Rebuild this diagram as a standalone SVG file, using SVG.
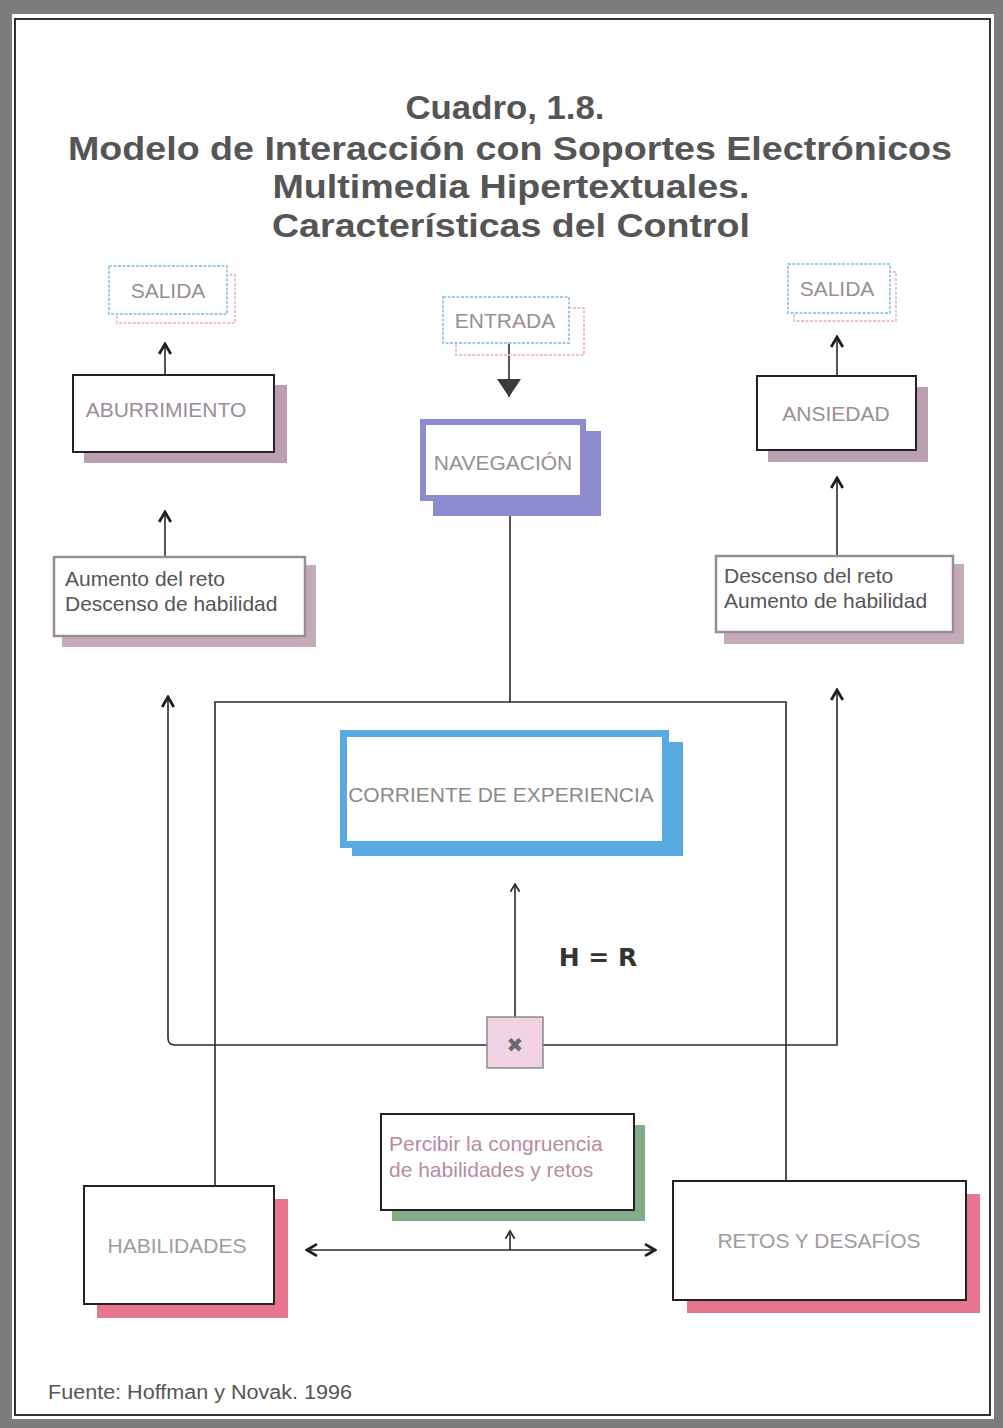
<svg xmlns="http://www.w3.org/2000/svg" width="1003" height="1428" viewBox="0 0 1003 1428">
<style>
.t{font-family:"Liberation Sans",Arial,sans-serif;}
.title{font-family:"Liberation Sans",Arial,sans-serif;font-weight:bold;font-size:34px;fill:#555;text-anchor:middle;}
.lbl{font-size:21px;fill:#9a8c9a;text-anchor:middle;}
.lbl2{font-size:21px;fill:#555;}
.box{fill:#fff;stroke:#222;stroke-width:2;}
.dot{fill:#fff;stroke:#9fcbea;stroke-width:2;stroke-dasharray:3 1.5;}
.dotsh{fill:none;stroke:#ecc0d6;stroke-width:2;stroke-dasharray:3 1.5;}
.conn{fill:none;stroke:#2a2a2a;stroke-width:1.6;}
</style>
<defs>
<marker id="chev" viewBox="0 0 12 12" refX="10.5" refY="6" markerWidth="14" markerHeight="14" markerUnits="userSpaceOnUse" orient="auto-start-reverse">
<path d="M2,1 L10.5,6 L2,11" fill="none" stroke="#1e1e1e" stroke-width="2.4"/>
</marker>
<marker id="chevs" viewBox="0 0 12 12" refX="10.5" refY="6" markerWidth="11" markerHeight="11" markerUnits="userSpaceOnUse" orient="auto-start-reverse">
<path d="M2,1 L10.5,6 L2,11" fill="none" stroke="#333" stroke-width="2"/>
</marker>
<marker id="tri" viewBox="0 0 10 10" refX="10" refY="5" markerWidth="18" markerHeight="24" markerUnits="userSpaceOnUse" orient="auto" preserveAspectRatio="none">
<path d="M0,0 L10,5 L0,10 Z" fill="#3a3a3a"/>
</marker>
</defs>

<!-- frame -->
<rect x="0" y="0" width="1003" height="1428" fill="#7c7c7c"/>
<rect x="12" y="14" width="982" height="1405" fill="#fff"/>
<rect x="15" y="19" width="975" height="1396" fill="none" stroke="#333" stroke-width="2"/>

<!-- title -->
<g id="title">
<text class="title" x="505" y="119" textLength="199" lengthAdjust="spacingAndGlyphs">Cuadro, 1.8.</text>
<text class="title" x="510" y="160" textLength="884" lengthAdjust="spacingAndGlyphs">Modelo de Interacción con Soportes Electrónicos</text>
<text class="title" x="511" y="198" textLength="477" lengthAdjust="spacingAndGlyphs">Multimedia Hipertextuales.</text>
<text class="title" x="511" y="237" textLength="478" lengthAdjust="spacingAndGlyphs">Características del Control</text>
</g>

<!-- connectors -->
<g id="connectors">
<path class="conn" d="M165,374 L165,344" marker-end="url(#chev)"/>
<path class="conn" d="M165,556 L165,512" marker-end="url(#chev)"/>
<path class="conn" d="M509,343 L509,397" marker-end="url(#tri)"/>
<path class="conn" d="M837,375 L837,337" marker-end="url(#chev)"/>
<path class="conn" d="M837,555 L837,478" marker-end="url(#chev)"/>
<path class="conn" d="M510,512 L510,702" stroke-width="1.2"/>
<path class="conn" d="M215,1185 L215,702 L786,702 L786,1180"/>
<path class="conn" d="M487,1045 L175,1045 Q168,1045 168,1038 L168,697" marker-end="url(#chev)"/>
<path class="conn" d="M543,1045 L837,1045 L837,690" marker-end="url(#chev)"/>
<path class="conn" d="M515,1017 L515,884" stroke-width="1" marker-end="url(#chevs)"/>
<path class="conn" d="M307,1250 L655,1250" marker-start="url(#chev)" marker-end="url(#chev)"/>
<path class="conn" d="M510,1250 L510,1231" marker-end="url(#chevs)"/>
</g>

<!-- nodes -->
<g id="salida-left">
<rect class="dotsh" x="117" y="275" width="118" height="48"/>
<rect class="dot" x="109" y="266" width="118" height="48"/>
<text class="t lbl" x="168" y="298">SALIDA</text>
</g>

<g id="entrada">
<rect class="dotsh" x="456" y="308" width="128" height="47"/>
<rect class="dot" x="443" y="297" width="126" height="46"/>
<text class="t lbl" x="505" y="328">ENTRADA</text>
</g>

<g id="salida-right">
<rect class="dotsh" x="794" y="272" width="102" height="49"/>
<rect class="dot" x="788" y="264" width="102" height="49"/>
<text class="t lbl" x="837" y="296">SALIDA</text>
</g>

<g id="aburrimiento">
<rect x="84" y="385" width="203" height="78" fill="#bca0b0"/>
<rect class="box" x="73" y="375" width="201" height="77"/>
<text class="t lbl" x="166" y="417">ABURRIMIENTO</text>
</g>

<g id="navegacion">
<rect x="433" y="431" width="168" height="85" fill="#8c8bcf"/>
<rect x="423" y="422" width="160" height="76" fill="#fff" stroke="#8c8bcf" stroke-width="6"/>
<text class="t lbl" x="503" y="470">NAVEGACIÓN</text>
</g>

<g id="ansiedad">
<rect x="768" y="387" width="160" height="75" fill="#bca0b0"/>
<rect class="box" x="757" y="376" width="159" height="74"/>
<text class="t lbl" x="836" y="421">ANSIEDAD</text>
</g>

<g id="aumento-reto">
<rect x="62" y="565" width="254" height="82" fill="#c4aab8"/>
<rect x="54" y="557" width="251" height="79" fill="#fff" stroke="#9a8a96" stroke-width="2.5"/>
<text class="t lbl2" x="65" y="586">Aumento del reto</text>
<text class="t lbl2" x="65" y="611">Descenso de habilidad</text>
</g>

<g id="descenso-reto">
<rect x="724" y="564" width="240" height="80" fill="#c4aab8"/>
<rect x="716" y="556" width="237" height="76" fill="#fff" stroke="#9a8a96" stroke-width="2.5"/>
<text class="t lbl2" x="724" y="583">Descenso del reto</text>
<text class="t lbl2" x="724" y="608">Aumento de habilidad</text>
</g>

<g id="corriente">
<rect x="352" y="742" width="331" height="114" fill="#5aaae2"/>
<rect x="343.5" y="733.5" width="322" height="111" fill="#fff" stroke="#5aaae2" stroke-width="7"/>
<text class="t lbl" x="501" y="802" style="fill:#8a8a8a">CORRIENTE DE EXPERIENCIA</text>
</g>

<g id="h-r">
<text x="598" y="966" style="font-family:'DejaVu Sans',sans-serif;font-weight:bold;font-size:25px;fill:#333;text-anchor:middle">H = R</text>
</g>

<g id="congruencia-x">
<rect x="487" y="1017" width="56" height="51" fill="#f2d3e3" stroke="#8a8a8a" stroke-width="1.5"/>
<text x="515" y="1052" style="font-family:'DejaVu Sans',sans-serif;font-size:20px;fill:#6a6a6a;text-anchor:middle">✖</text>
</g>

<g id="percibir">
<rect x="392" y="1125" width="253" height="96" fill="#82ad88"/>
<rect class="box" x="381" y="1114" width="253" height="96" stroke-width="1.8"/>
<text class="t lbl2" x="389" y="1151" style="fill:#b98aa2">Percibir la congruencia</text>
<text class="t lbl2" x="389" y="1177" style="fill:#b98aa2">de habilidades y retos</text>
</g>

<g id="habilidades">
<rect x="97" y="1199" width="191" height="119" fill="#e8758f"/>
<rect class="box" x="84" y="1186" width="190" height="118"/>
<text class="t lbl" x="177" y="1253" style="fill:#a29aa2">HABILIDADES</text>
</g>

<g id="retos">
<rect x="687" y="1194" width="293" height="119" fill="#e8758f"/>
<rect class="box" x="673" y="1181" width="293" height="119"/>
<text class="t lbl" x="819" y="1248" style="fill:#a29aa2">RETOS Y DESAFÍOS</text>
</g>

<g id="fuente">
<text class="t" x="48" y="1399" textLength="304" lengthAdjust="spacingAndGlyphs" style="font-size:20px;fill:#555">Fuente: Hoffman y Novak. 1996</text>
</g>
</svg>
